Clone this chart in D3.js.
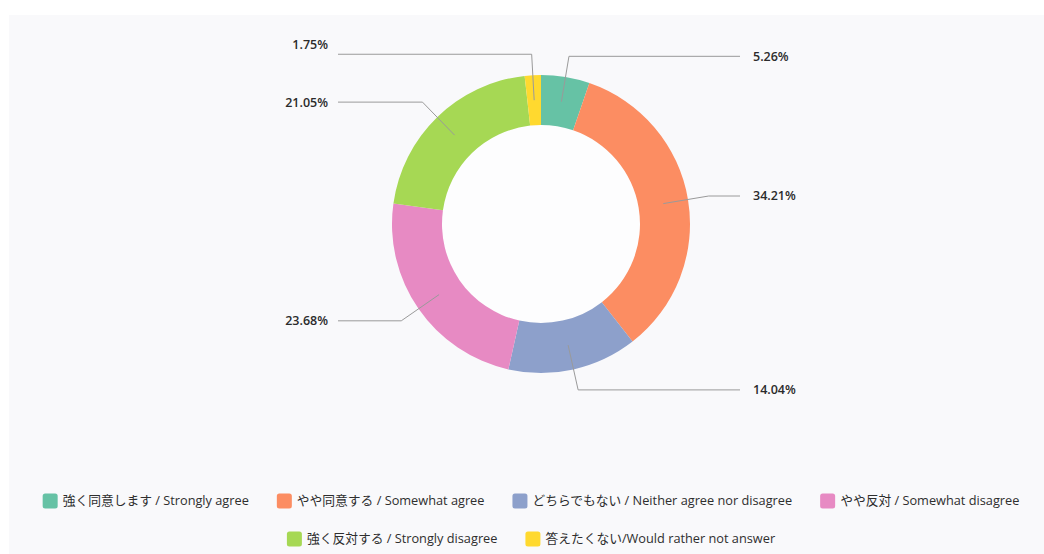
<!DOCTYPE html>
<html>
<head>
<meta charset="utf-8">
<script src="https://cdn.jsdelivr.net/npm/d3@7"></script>
<style>
  html, body { margin: 0; padding: 0; background: #ffffff; }
  svg { display: block; }
  text { font-family: "Open Sans", "Noto Sans CJK JP", sans-serif; }
</style>
</head>
<body>
<svg id="chart" width="1044" height="554"></svg>
<script>
// Survey answers, clockwise from 12 o'clock
const categories = [
  "強く同意します / Strongly agree",
  "やや同意する / Somewhat agree",
  "どちらでもない / Neither agree nor disagree",
  "やや反対 / Somewhat disagree",
  "強く反対する / Strongly disagree",
  "答えたくない/Would rather not answer"
];
const percentages = [5.26, 34.21, 14.04, 23.68, 21.05, 1.75];
const palette = ["#66c2a5", "#fc8d62", "#8da0cb", "#e78ac3", "#a6d854", "#ffd92f"];
const legendRows = [[0, 1, 2, 3], [4, 5]];

const W = 1044, H = 554;
const cx = 541, cy = 224;
const rInner = 99, rOuter = 149;
const rLeaderStart = 124, rElbow = 170;
const rightLineEnd = 740, leftLineEnd = 338;

const svg = d3.select("#chart");

// panel background
svg.append("rect")
  .attr("x", 9).attr("y", 15)
  .attr("width", W - 9).attr("height", H - 15)
  .attr("fill", "#f9f9fb");

const data = categories.map((c, i) => ({ label: c, value: percentages[i], color: palette[i] }));

const pie = d3.pie().sort(null).value(d => d.value);
const arcs = pie(data);
const arc = d3.arc().innerRadius(rInner).outerRadius(rOuter);

const g = svg.append("g").attr("transform", `translate(${cx},${cy})`);

g.append("circle").attr("r", rInner).attr("fill", "#fdfdfe");

g.selectAll("path.slice")
  .data(arcs)
  .join("path")
  .attr("class", "slice")
  .attr("d", arc)
  .attr("fill", d => d.data.color);

// leader lines and value labels
const polar = (r, a) => [r * Math.sin(a), -r * Math.cos(a)];
// small vertical nudges for crowded labels
const labelNudge = { 5: -10 };

arcs.forEach((d, i) => {
  const mid = (d.startAngle + d.endAngle) / 2;
  const p0 = polar(rLeaderStart, mid);
  const p1 = polar(rElbow, mid);
  const right = Math.sin(mid) >= 0;
  const xEnd = (right ? rightLineEnd : leftLineEnd) - cx;
  g.append("polyline")
    .attr("points", [p0, p1, [xEnd, p1[1]]].map(p => p.join(",")).join(" "))
    .attr("fill", "none")
    .attr("stroke", "#9a9a9a")
    .attr("stroke-width", 1);
  g.append("text")
    .attr("x", right ? xEnd + 13 : xEnd - 10)
    .attr("y", p1[1] + (labelNudge[i] || 0))
    .attr("dy", "0.35em")
    .attr("text-anchor", right ? "start" : "end")
    .attr("font-size", 12.5)
    .attr("font-weight", 600)
    .attr("fill", "#2b2b2b")
    .text(d3.format(".2f")(d.data.value) + "%");
});

// legend
const legend = svg.append("g");
const rowY = [501, 539];
const sw = 15, swGap = 5, itemGap = 28, legendCenter = 531;

legendRows.forEach((row, ri) => {
  const rg = legend.append("g");
  let x = 0;
  row.forEach(idx => {
    const ig = rg.append("g").attr("transform", `translate(${x},0)`);
    ig.append("rect")
      .attr("x", 0).attr("y", rowY[ri] - sw / 2)
      .attr("width", sw).attr("height", sw)
      .attr("rx", 2.5)
      .attr("fill", palette[idx]);
    const t = ig.append("text")
      .attr("x", sw + swGap)
      .attr("y", rowY[ri])
      .attr("dy", "0.35em")
      .attr("font-size", 12.75)
      .attr("fill", "#2e2e2e")
      .text(categories[idx]);
    x += sw + swGap + t.node().getComputedTextLength() + itemGap;
  });
  const total = x - itemGap;
  rg.attr("transform", `translate(${legendCenter - total / 2},0)`);
});
</script>
</body>
</html>
